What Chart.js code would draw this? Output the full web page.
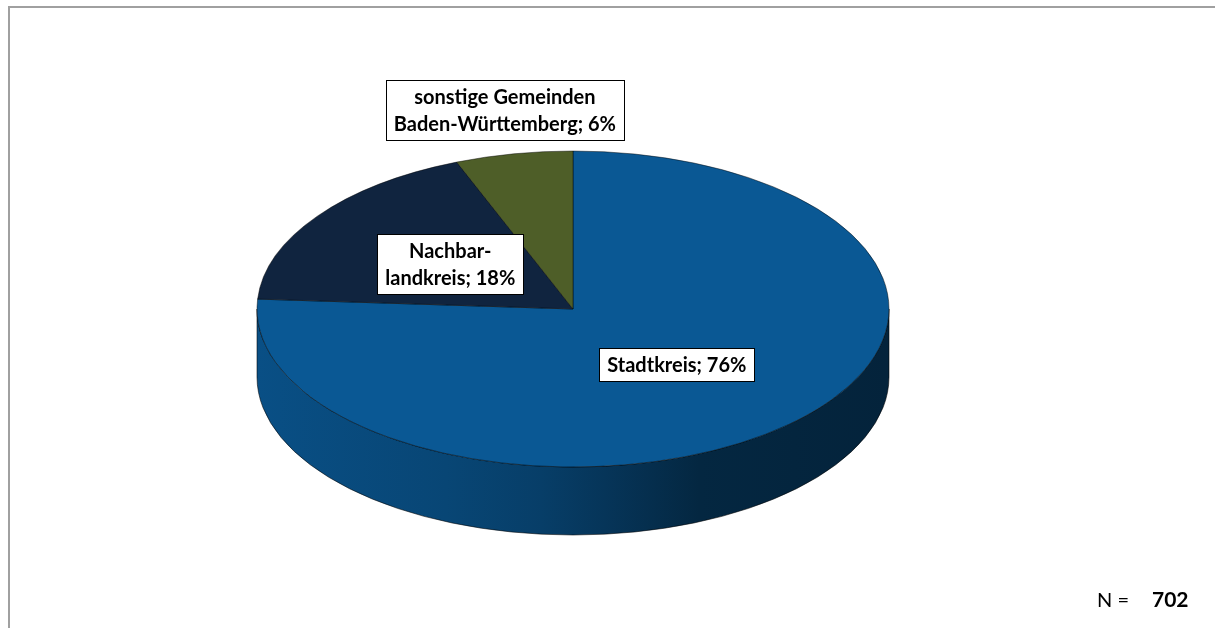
<!DOCTYPE html>
<html>
<head>
<meta charset="utf-8">
<script src="https://cdn.jsdelivr.net/npm/chart.js@4/dist/chart.umd.min.js"></script>
<style>
  html, body { margin: 0; padding: 0; background: #fff; }
  #wrap { position: relative; width: 1215px; height: 628px; }
</style>
</head>
<body>
<div id="wrap"><canvas id="herkunftChart" width="1215" height="628"></canvas></div>
<script>
// Herkunft der Befragten
const categories = ['Stadtkreis', 'Nachbar-\nlandkreis', 'sonstige Gemeinden\nBaden-Württemberg'];
const shares = [76, 18, 6];
const sliceColors = ['#0A5894', '#10243F', '#4E5E28'];
const sampleSize = 702;

const TILT = 0.5;   // vertical squash of the top ellipse
const DEPTH = 68;   // height of the cylinder wall

// side wall shading, multipliers on the slice colour from left to right
const wallShade = [[0, 0.9], [0.3, 0.79], [0.45, 0.7], [0.55, 0.6], [0.7, 0.44], [1, 0.4]];

function shade(hex, f) {
  const n = parseInt(hex.slice(1), 16);
  const r = Math.round(((n >> 16) & 255) * f);
  const g = Math.round(((n >> 8) & 255) * f);
  const b = Math.round((n & 255) * f);
  return `rgb(${r},${g},${b})`;
}

// parts of an arc that lie on the front half (0..PI) of the ellipse
function frontSpans(a0, a1) {
  const out = [];
  for (const k of [-2, 0, 2]) {
    const s = Math.max(a0 + k * Math.PI, 0);
    const e = Math.min(a1 + k * Math.PI, Math.PI);
    if (e > s) out.push([s, e]);
  }
  return out;
}

const pie3d = {
  id: 'pie3d',
  beforeDraw(chart) {
    const ctx = chart.ctx;
    ctx.save();
    ctx.strokeStyle = '#a0a0a0';
    ctx.lineWidth = 2;
    ctx.beginPath();
    ctx.moveTo(1215, 7);
    ctx.lineTo(9, 7);
    ctx.lineTo(9, 628);
    ctx.stroke();
    ctx.restore();
  },
  beforeDatasetsDraw(chart) {
    const ctx = chart.ctx;
    const arcs = chart.getDatasetMeta(0).data;
    const cx = arcs[0].x, cy = arcs[0].y;
    const rx = arcs[0].outerRadius, ry = rx * TILT;

    arcs.forEach((arc, i) => {
      frontSpans(arc.startAngle, arc.endAngle).forEach(([s, e]) => {
        const grad = ctx.createLinearGradient(cx - rx, 0, cx + rx, 0);
        wallShade.forEach(([p, f]) => grad.addColorStop(p, shade(sliceColors[i], f)));
        ctx.save();
        ctx.beginPath();
        ctx.ellipse(cx, cy, rx, ry, 0, s, e, false);
        ctx.ellipse(cx, cy + DEPTH, rx, ry, 0, e, s, true);
        ctx.closePath();
        ctx.fillStyle = grad;
        ctx.fill();
        ctx.strokeStyle = 'rgba(0,0,0,0.55)';
        ctx.lineWidth = 1;
        ctx.stroke();
        ctx.restore();
      });
    });

    // squash the top face into an ellipse
    ctx.save();
    ctx.translate(0, cy);
    ctx.scale(1, TILT);
    ctx.translate(0, -cy);
  },
  afterDatasetsDraw(chart) {
    chart.ctx.restore();
  },
  afterDraw(chart) {
    const ctx = chart.ctx;
    const arcs = chart.getDatasetMeta(0).data;
    ctx.save();
    ctx.font = 'bold 20px Lato';
    ctx.textAlign = 'center';
    ctx.textBaseline = 'middle';
    const lineH = 27;

    arcs.forEach((arc, i) => {
      const mid = (arc.startAngle + arc.endAngle) / 2;
      // small slices get their label outside the pie
      const outside = shares[i] < 10;
      const fx = outside ? 1.15 : 0.48;
      const fy = outside ? 1.28 : 0.48;
      const x = arc.x + arc.outerRadius * fx * Math.cos(mid);
      const y = arc.y + arc.outerRadius * TILT * fy * Math.sin(mid);
      const lines = (categories[i] + '; ' + shares[i] + '%').split('\n');
      const w = Math.max(...lines.map(t => ctx.measureText(t).width)) + 16;
      const h = lines.length * lineH + 6;
      const bx = Math.round(x - w / 2) + 0.5, by = Math.round(y - h / 2) + 0.5;
      ctx.fillStyle = '#fff';
      ctx.fillRect(bx, by, Math.round(w), h);
      ctx.strokeStyle = '#000';
      ctx.lineWidth = 1;
      ctx.strokeRect(bx, by, Math.round(w), h);
      ctx.fillStyle = '#000';
      lines.forEach((t, j) => {
        ctx.fillText(t, x, y - (lines.length - 1) * lineH / 2 + j * lineH + 1);
      });
    });

    // sample size note
    ctx.textBaseline = 'alphabetic';
    ctx.textAlign = 'left';
    ctx.font = '20px Lato';
    ctx.fillText('N =', 1097, 607);
    ctx.font = 'bold 21px Lato';
    ctx.fillText(String(sampleSize), 1152, 607);
    ctx.restore();
  }
};

new Chart(document.getElementById('herkunftChart'), {
  type: 'pie',
  data: {
    labels: categories,
    datasets: [{
      data: shares,
      backgroundColor: sliceColors,
      borderColor: 'rgba(0,0,0,0.6)',
      borderWidth: 1,
      clip: false
    }]
  },
  options: {
    responsive: false,
    animation: false,
    events: [],
    radius: 316,
    layout: { padding: { left: 0, right: 69, top: 0, bottom: 10 } },
    plugins: {
      legend: { display: false },
      tooltip: { enabled: false }
    }
  },
  plugins: [pie3d]
});
</script>
</body>
</html>
